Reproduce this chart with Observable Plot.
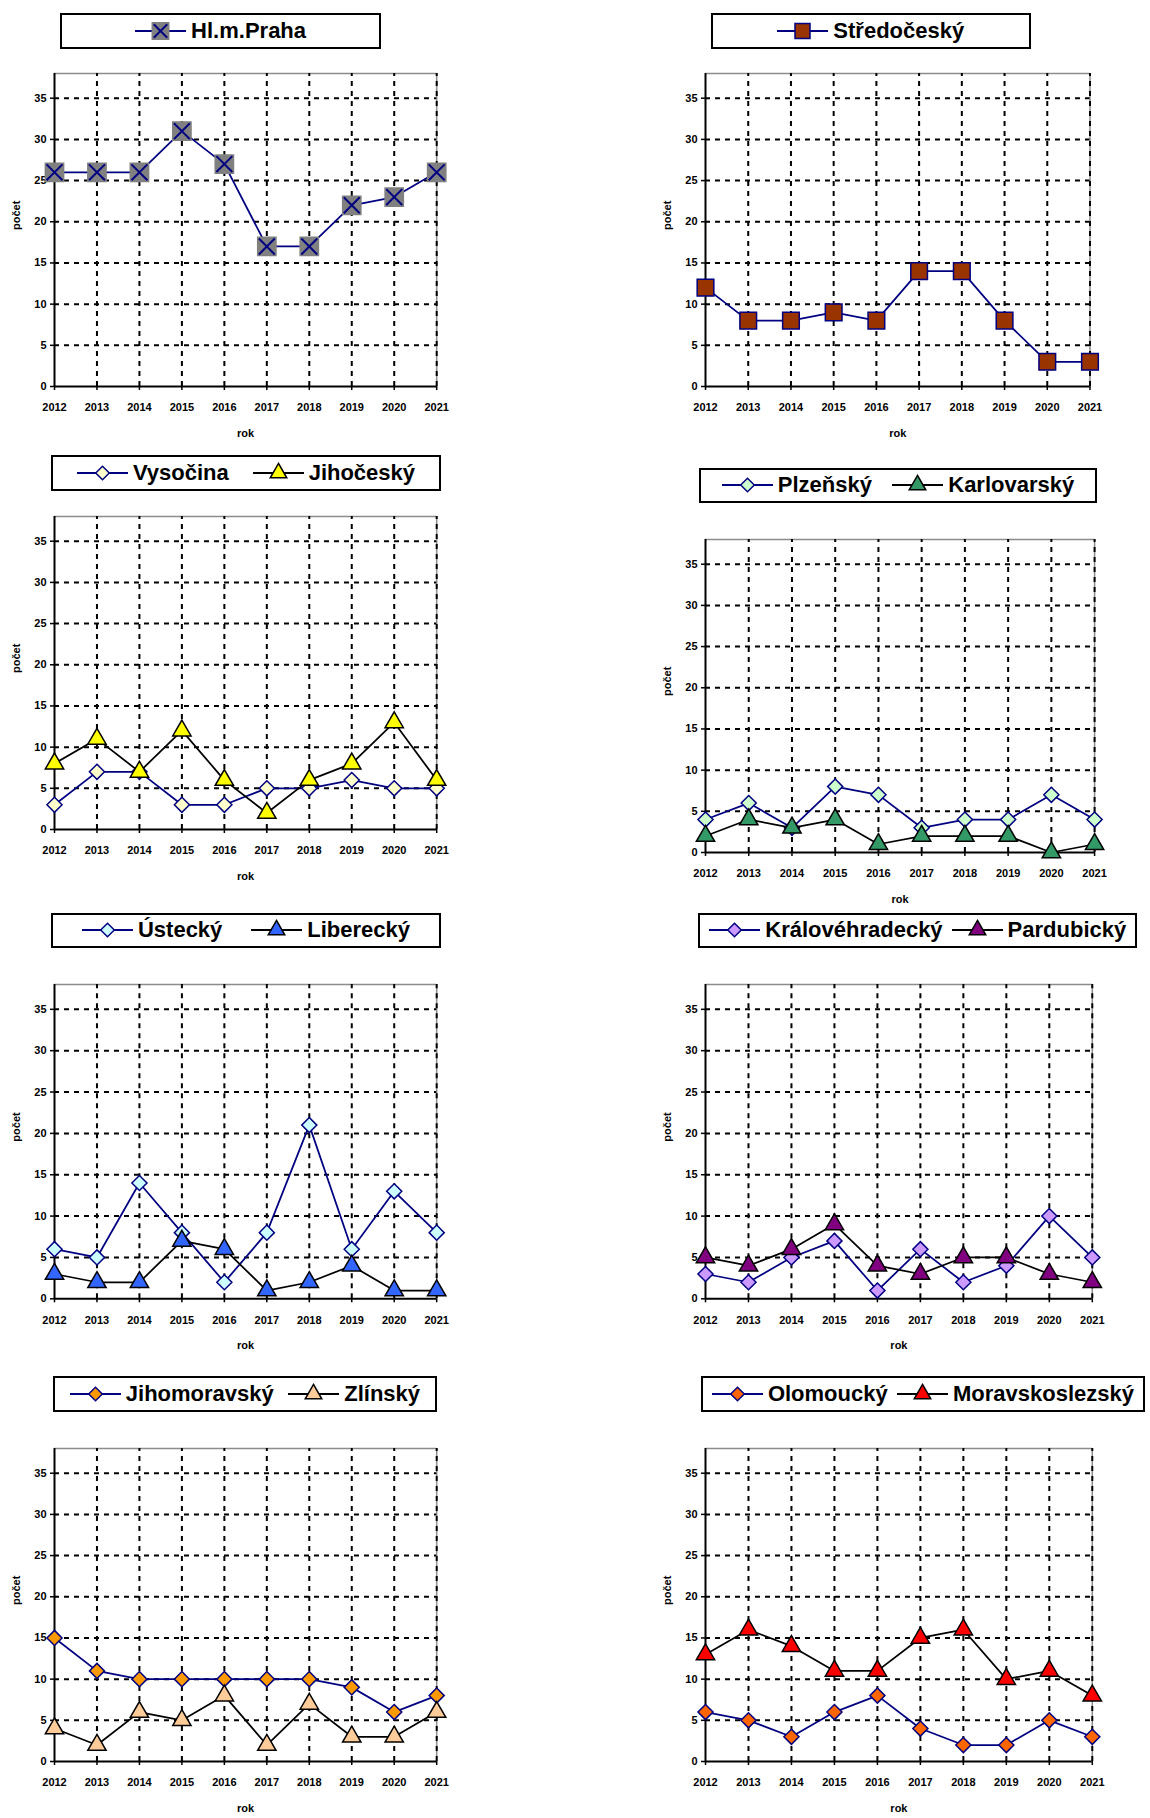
<!DOCTYPE html>
<html><head><meta charset="utf-8">
<script src="https://cdn.jsdelivr.net/npm/d3@7"></script>
<script src="https://cdn.jsdelivr.net/npm/@observablehq/plot@0.6"></script>
<style>
body{margin:0;background:#fff;}
#page{position:relative;width:1150px;height:1818px;background:#fff;font-family:"Liberation Sans",Arial,sans-serif;overflow:hidden;}
.panel{position:absolute;}
.legend{position:absolute;box-sizing:border-box;border:2px solid #000;background:#fff;display:flex;align-items:center;justify-content:space-evenly;}
.legend.single{justify-content:center;}
.item{display:flex;align-items:center;font-weight:bold;font-size:22px;color:#000;white-space:nowrap;font-family:"Liberation Sans",Arial,sans-serif;}
.item svg{margin-right:5px;}
</style></head><body><div id="page"></div>
<script>
// ---- data ----
const years = [2012, 2013, 2014, 2015, 2016, 2017, 2018, 2019, 2020, 2021];
const yTicks = [0, 5, 10, 15, 20, 25, 30, 35];
const praha = [26, 26, 26, 31, 27, 17, 17, 22, 23, 26];
const stredocesky = [12, 8, 8, 9, 8, 14, 14, 8, 3, 3];
const vysocina = [3, 7, 7, 3, 3, 5, 5, 6, 5, 5];
const jihocesky = [8, 11, 7, 12, 6, 2, 6, 8, 13, 6];
const plzensky = [4, 6, 3, 8, 7, 3, 4, 4, 7, 4];
const karlovarsky = [2, 4, 3, 4, 1, 2, 2, 2, 0, 1];
const ustecky = [6, 5, 14, 8, 2, 8, 21, 6, 13, 8];
const liberecky = [3, 2, 2, 7, 6, 1, 2, 4, 1, 1];
const kralovehradecky = [3, 2, 5, 7, 1, 6, 2, 4, 10, 5];
const pardubicky = [5, 4, 6, 9, 4, 3, 5, 5, 3, 2];
const jihomoravsky = [15, 11, 10, 10, 10, 10, 10, 9, 6, 8];
const zlinsky = [4, 2, 6, 5, 8, 2, 7, 3, 3, 6];
const olomoucky = [6, 5, 3, 6, 8, 4, 2, 2, 5, 3];
const moravskoslezsky = [13, 16, 14, 11, 11, 15, 16, 10, 11, 8];

// ---- styles / layout ----
const NAVY = "#000080", BLACK = "#000000";
const dia = (name, values, fill) => ({name, values, line: NAVY, symbol: "diamond2", fill, stroke: NAVY, r: 6.8});
const tri = (name, values, fill) => ({name, values, line: BLACK, symbol: "triangle", fill, stroke: BLACK, r: 6.8});

const panels = [
  {x0: 54.4, x1: 436.6, y0: 385.6, y35: 97.3, legend: [60.2, 12.7, 320.8, 35.9],
   series: [{name: "Hl.m.Praha", values: praha, line: NAVY, symbol: "square", fill: "#808080", stroke: "#808080", r: 10.3, cross: true}]},
  {x0: 705.2, x1: 1089.7, y0: 385.6, y35: 97.3, legend: [711, 12.7, 319.6, 35.9],
   series: [{name: "Středočeský", values: stredocesky, line: NAVY, symbol: "square", fill: "#993300", stroke: NAVY, r: 9.4}]},
  {x0: 54.4, x1: 436.6, y0: 829.1, y35: 540.8, legend: [51, 455, 390, 35.9],
   series: [dia("Vysočina", vysocina, "#FFFFCC"), tri("Jihočeský", jihocesky, "#FFFF00")]},
  {x0: 705.2, x1: 1094.3, y0: 852.3, y35: 564.0, legend: [699.4, 467.8, 397.2, 35],
   series: [dia("Plzeňský", plzensky, "#CCFFCC"), tri("Karlovarský", karlovarsky, "#339966")]},
  {x0: 54.4, x1: 436.6, y0: 1298.1, y35: 1008.6, legend: [51, 912.5, 390, 35.9],
   series: [dia("Ústecký", ustecky, "#CCFFFF"), tri("Liberecký", liberecky, "#3366FF")]},
  {x0: 705.2, x1: 1092, y0: 1298.1, y35: 1008.6, legend: [698.3, 912.5, 438.9, 35.9],
   series: [dia("Královéhradecký", kralovehradecky, "#CC99FF"), tri("Pardubický", pardubicky, "#800080")]},
  {x0: 54.4, x1: 436.6, y0: 1761.3, y35: 1473, legend: [53.3, 1375.7, 383.3, 35.9],
   series: [dia("Jihomoravský", jihomoravsky, "#FF9900"), tri("Zlínský", zlinsky, "#FFCC99")]},
  {x0: 705.2, x1: 1092, y0: 1761.3, y35: 1473, legend: [700.6, 1375.7, 444.7, 35.9],
   series: [dia("Olomoucký", olomoucky, "#FF6600"), tri("Moravskoslezský", moravskoslezsky, "#FF0000")]}
];

const YMAX = 38;
const mL = 60, mR = 20, mT = 12, mB = 64;
const page = document.getElementById("page");
const d3sym = {square: d3.symbolSquare, diamond2: d3.symbolDiamond2, triangle: d3.symbolTriangle, times: d3.symbolTimes};
const dash = "5,5";

for (const p of panels) {
  const W = p.x1 - p.x0;
  const H = (p.y0 - p.y35) * YMAX / 35;
  const marks = [
    Plot.ruleY([YMAX], {stroke: "#8c8c8c", strokeWidth: 1.5}),
    Plot.ruleX([2021], {stroke: "#8c8c8c", strokeWidth: 1.5}),
    Plot.ruleY(yTicks.filter(d => d > 0), {stroke: "#000", strokeWidth: 2, strokeDasharray: dash}),
    Plot.ruleX(years.slice(1), {stroke: "#000", strokeWidth: 2, strokeDasharray: dash, y1: 0, y2: YMAX}),
    Plot.ruleY([0], {stroke: "#000", strokeWidth: 2}),
    Plot.ruleX([2012], {stroke: "#000", strokeWidth: 2, y1: 0, y2: YMAX}),
    Plot.axisX({ticks: years, tickFormat: d => String(d), tickSize: 4, tickPadding: 13, strokeWidth: 1.5,
                fontWeight: "bold", fontSize: 11, label: null}),
    Plot.axisY({ticks: yTicks, tickSize: 4, tickPadding: 4, strokeWidth: 1.5,
                fontWeight: "bold", fontSize: 11, label: null}),
    Plot.text(["počet"], {frameAnchor: "left", dx: -38, rotate: -90, fontWeight: "bold", fontSize: 11}),
    Plot.text(["rok"], {frameAnchor: "bottom", dy: 50, fontWeight: "bold", fontSize: 11})
  ];
  for (const s of p.series) {
    const d = years.map((y, i) => ({year: y, v: s.values[i]}));
    marks.push(Plot.line(d, {x: "year", y: "v", stroke: s.line, strokeWidth: 1.75}));
    marks.push(Plot.dot(d, {x: "year", y: "v", symbol: s.symbol, r: s.r, fill: s.fill, stroke: s.stroke, strokeWidth: 1.5}));
    if (s.cross) marks.push(Plot.dot(d, {x: "year", y: "v", symbol: "times", r: 7.3, stroke: NAVY, strokeWidth: 2}));
  }
  const chart = Plot.plot({
    width: W + mL + mR, height: H + mT + mB,
    marginLeft: mL, marginRight: mR, marginTop: mT, marginBottom: mB,
    x: {domain: [2012, 2021], axis: null},
    y: {domain: [0, YMAX], axis: null},
    style: {overflow: "visible", fontFamily: "Liberation Sans, Arial, sans-serif", background: "transparent", color: "#000"},
    marks
  });
  const wrap = document.createElement("div");
  wrap.className = "panel";
  wrap.style.left = (p.x0 - mL) + "px";
  wrap.style.top = (p.y0 - H - mT) + "px";
  wrap.appendChild(chart);
  page.appendChild(wrap);

  // legend
  const [lx, ly, lw, lh] = p.legend;
  const lg = document.createElement("div");
  lg.className = "legend" + (p.series.length === 1 ? " single" : "");
  Object.assign(lg.style, {left: lx + "px", top: ly + "px", width: lw + "px", height: lh + "px"});
  for (const s of p.series) {
    const it = document.createElement("div");
    it.className = "item";
    const svg = d3.create("svg").attr("width", 51).attr("height", 22);
    svg.append("line").attr("x1", 0).attr("x2", 51).attr("y1", 11).attr("y2", 11).attr("stroke", s.line).attr("stroke-width", 2);
    const rr = s.r * 0.9;
    svg.append("path").attr("transform", "translate(25.5,11)")
      .attr("d", d3.symbol(d3sym[s.symbol], Math.PI * rr * rr)())
      .attr("fill", s.fill).attr("stroke", s.stroke).attr("stroke-width", 1.5);
    if (s.cross) {
      svg.append("path").attr("transform", "translate(25.5,11)")
        .attr("d", d3.symbol(d3.symbolTimes, Math.PI * 6.2 * 6.2)())
        .attr("fill", "none").attr("stroke", NAVY).attr("stroke-width", 2);
    }
    it.appendChild(svg.node());
    const t = document.createElement("span");
    t.textContent = s.name;
    it.appendChild(t);
    lg.appendChild(it);
  }
  page.appendChild(lg);
}
</script></body></html>
